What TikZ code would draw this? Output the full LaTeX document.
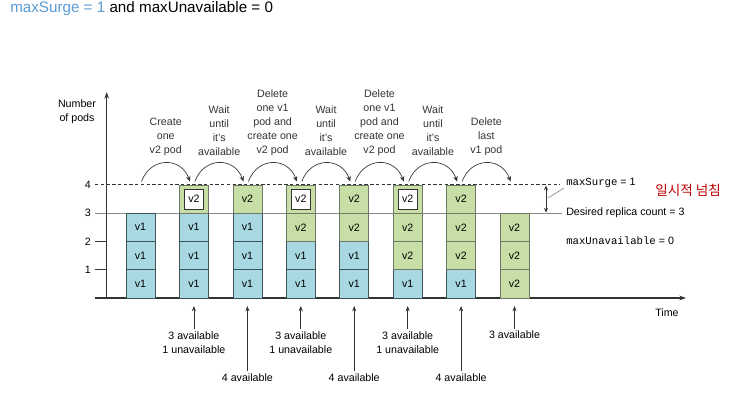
\documentclass[tikz,border=0pt]{standalone}
\usepackage{fontspec}
\setmainfont{Liberation Sans}
\setmonofont{Liberation Mono}
\newfontfamily\kofont{Noto Sans CJK KR}
\usetikzlibrary{arrows.meta,positioning}
\definecolor{vblue}{HTML}{A8D8E1}
\definecolor{vgreen}{HTML}{C7DFA6}
\definecolor{celledge}{HTML}{3E5257}
\definecolor{greenedge}{HTML}{6F7A66}
\definecolor{axisgray}{HTML}{333333}
\definecolor{linegray}{HTML}{8A8A8A}
\definecolor{titleblue}{HTML}{5B9BD5}
\definecolor{korred}{HTML}{C00000}

\begin{document}
\begin{tikzpicture}[x=0.75pt, y=-0.75pt,
  vone/.style={rectangle, draw=celledge, line width=0.6pt, fill=vblue,
    minimum width=21.75pt, minimum height=21.2pt, inner sep=0pt,
    outer sep=0pt, font=\fontsize{8}{10.5}\selectfont},
  vtwo/.style={vone, fill=vgreen, draw=greenedge},
  vpend/.style={rectangle, draw=axisgray, line width=0.6pt, fill=white,
    minimum width=14.25pt, minimum height=15pt, inner sep=0pt,
    font=\fontsize{8}{10.5}\selectfont},
  hop/.style={-{Stealth[length=4pt,width=3.5pt]}, line width=0.5pt,
    axisgray, out=70, in=110, looseness=1.4},
  steplbl/.style={font=\fontsize{8}{10.5}\selectfont, align=center,
    above=4.25pt, inner sep=1pt},
  note/.style={font=\fontsize{8}{10.5}\selectfont, align=center,
    inner sep=1.5pt},
  pt/.style={-{Stealth[length=4pt,width=3pt]}, line width=0.5pt,
    axisgray, shorten >=6pt},
  axis/.style={-{Stealth[length=5pt,width=3.5pt]}, line width=0.8pt,
    axisgray},
  tick/.style={line width=0.6pt, axisgray},
  txt/.style={font=\fontsize{8}{10.5}\selectfont, inner sep=0pt,
    anchor=west}
]
\useasboundingbox (0,0) rectangle (743,401);

%─── TITLE ───────────────────────────────────────────────────────────────────
\node[anchor=west, inner sep=0pt, font=\fontsize{11.4}{13}\selectfont]
  (title) at (10,9) {\textcolor{titleblue}{maxSurge = 1} and maxUnavailable = 0};

%─── AXES ────────────────────────────────────────────────────────────────────
\draw[linegray, line width=0.8pt] (95,213.1) -- (562,213.1);
\draw[axisgray, line width=0.5pt, dash pattern=on 2.5pt off 1.8pt]
  (95,184.8) -- (560,184.8);
\draw[tick] (95,241.4) -- (106.7,241.4);
\draw[tick] (95,269.7) -- (106.7,269.7);
\draw[axis] (95,298) -- (686,298);
\draw[axis] (106.7,298) -- (106.7,92);

\node[font=\fontsize{8}{10.5}\selectfont, align=center] (ylab) at (77,112)
  {Number\\of pods};
\node[txt, anchor=east] (y4) at (91,185) {4};
\node[txt, anchor=east] (y3) at (91,213) {3};
\node[txt, anchor=east] (y2) at (91,241.4) {2};
\node[txt, anchor=east] (y1) at (91,269.7) {1};
\node[font=\fontsize{8}{10.5}\selectfont] (time) at (667,313) {Time};

%─── COLUMNS ─────────────────────────────────────────────────────────────────
\node[vone] (A1) at (140.5,283.85) {v1};
\node[vone, above=0pt of A1] (A2) {v1};
\node[vone, above=0pt of A2] (A3) {v1};

\node[vone] (B1) at (193.9,283.85) {v1};
\node[vone, above=0pt of B1] (B2) {v1};
\node[vone, above=0pt of B2] (B3) {v1};
\node[vtwo, above=0pt of B3] (B4) {};
\node[vpend] (B4w) at (B4) {v2};

\node[vone] (C1) at (247.4,283.85) {v1};
\node[vone, above=0pt of C1] (C2) {v1};
\node[vone, above=0pt of C2] (C3) {v1};
\node[vtwo, above=0pt of C3] (C4) {v2};

\node[vone] (D1) at (300.8,283.85) {v1};
\node[vone, above=0pt of D1] (D2) {v1};
\node[vtwo, above=0pt of D2] (D3) {v2};
\node[vtwo, above=0pt of D3] (D4) {};
\node[vpend] (D4w) at (D4) {v2};

\node[vone] (E1) at (354.2,283.85) {v1};
\node[vone, above=0pt of E1] (E2) {v1};
\node[vtwo, above=0pt of E2] (E3) {v2};
\node[vtwo, above=0pt of E3] (E4) {v2};

\node[vone] (F1) at (407.7,283.85) {v1};
\node[vtwo, above=0pt of F1] (F2) {v2};
\node[vtwo, above=0pt of F2] (F3) {v2};
\node[vtwo, above=0pt of F3] (F4) {};
\node[vpend] (F4w) at (F4) {v2};

\node[vone] (G1) at (461.1,283.85) {v1};
\node[vtwo, above=0pt of G1] (G2) {v2};
\node[vtwo, above=0pt of G2] (G3) {v2};
\node[vtwo, above=0pt of G3] (G4) {v2};

\node[vtwo] (H1) at (514.5,283.85) {v2};
\node[vtwo, above=0pt of H1] (H2) {v2};
\node[vtwo, above=0pt of H2] (H3) {v2};

%─── STEPS ───────────────────────────────────────────────────────────────────
\coordinate (tA) at (141.5,181.5);
\coordinate (tB) at (194.9,181.5);
\coordinate (tC) at (248.4,181.5);
\coordinate (tD) at (301.8,181.5);
\coordinate (tE) at (355.2,181.5);
\coordinate (tF) at (408.7,181.5);
\coordinate (tG) at (462.1,181.5);
\coordinate (tH) at (515.5,181.5);

\draw[hop] (tA) to node[steplbl, midway]{Create\\one\\v2 pod} ([xshift=-3.7pt]tB);
\draw[hop] (tB) to node[steplbl, midway]{Wait\\until\\it's\\available} ([xshift=-3.7pt]tC);
\draw[hop] (tC) to node[steplbl, midway]{Delete\\one v1\\pod and\\create one\\v2 pod} ([xshift=-3.7pt]tD);
\draw[hop] (tD) to node[steplbl, midway]{Wait\\until\\it's\\available} ([xshift=-3.7pt]tE);
\draw[hop] (tE) to node[steplbl, midway]{Delete\\one v1\\pod and\\create one\\v2 pod} ([xshift=-3.7pt]tF);
\draw[hop] (tF) to node[steplbl, midway]{Wait\\until\\it's\\available} ([xshift=-3.7pt]tG);
\draw[hop] (tG) to node[steplbl, midway]{Delete\\last\\v1 pod} ([xshift=-3.7pt]tH);

%─── AVAILABILITY ────────────────────────────────────────────────────────────
\node[note] (nB) at (193.9,342.5) {3 available\\1 unavailable};
\node[note] (nC) at (247.4,377.5) {4 available};
\node[note] (nD) at (300.8,342.5) {3 available\\1 unavailable};
\node[note] (nE) at (354.2,377.5) {4 available};
\node[note] (nF) at (407.7,342.5) {3 available\\1 unavailable};
\node[note] (nG) at (461.1,377.5) {4 available};
\node[note] (nH) at (514.5,335) {3 available};

\draw[pt] (nB.north) -- (B1.south);
\draw[pt] (nC.north) -- (C1.south);
\draw[pt] (nD.north) -- (D1.south);
\draw[pt] (nE.north) -- (E1.south);
\draw[pt] (nF.north) -- (F1.south);
\draw[pt] (nG.north) -- (G1.south);
\draw[pt] (nH.north) -- (H1.south);

%─── LIMITS ──────────────────────────────────────────────────────────────────
\node[txt] (surge) at (566,183) {\texttt{maxSurge} = 1};
\node[txt] (desired) at (566,213.1) {Desired replica count = 3};
\node[txt] (unavail) at (566,241) {\texttt{maxUnavailable} = 0};
\node[txt, font=\kofont\fontsize{10.2}{12}\selectfont, text=korred]
  (kor) at (655,190) {일시적 넘침};

\draw[{Stealth[length=3.5pt,width=3pt]}-{Stealth[length=3.5pt,width=3pt]},
  line width=0.5pt, axisgray] (546,185.5) -- (546,212.5);
\draw[linegray, line width=0.5pt] (548,198) -- ([xshift=-1.5pt]surge.south west);

\end{tikzpicture}
\end{document}
